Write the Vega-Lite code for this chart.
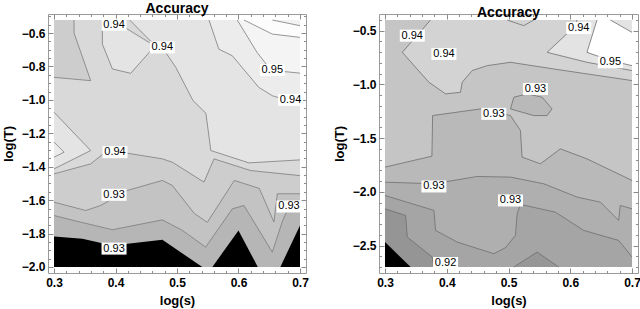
{
"$schema":"https://vega.github.io/schema/vega-lite/v6.json",
"padding":{"left":1,"right":2,"top":1,"bottom":0},
"spacing":23,
"config":{
 "view":{"stroke":"#9a9a9a","strokeWidth":1},
 "axis":{"domain":false,"grid":false,"tickColor":"#8a8a8a","tickWidth":1,"labelFont":"Liberation Sans","labelFontSize":12,"labelFontWeight":"bold","labelColor":"#000","titleFont":"Liberation Sans","titleFontSize":13,"titleFontWeight":"bold","titleColor":"#000","labelFlush":false,"labelOverlap":false,"labelPadding":4},
 "title":{"font":"Liberation Sans","fontSize":14,"fontWeight":"bold","color":"#000","offset":-6}
},
"datasets":{
"A":[
{"p":"L","id":"a00","c":"#e4e4e4","x":0.3,"hi":-0.522,"lo":-2},
{"p":"L","id":"a00","c":"#e4e4e4","x":0.7,"hi":-0.522,"lo":-2},
{"p":"L","id":"a01","c":"#ececec","x":0.552,"hi":-0.522,"lo":-0.522},
{"p":"L","id":"a01","c":"#ececec","x":0.568,"hi":-0.522,"lo":-0.696},
{"p":"L","id":"a01","c":"#ececec","x":0.59,"hi":-0.522,"lo":-0.736},
{"p":"L","id":"a01","c":"#ececec","x":0.633,"hi":-0.522,"lo":-0.925},
{"p":"L","id":"a01","c":"#ececec","x":0.655,"hi":-0.522,"lo":-0.975},
{"p":"L","id":"a01","c":"#ececec","x":0.681,"hi":-0.522,"lo":-1.004},
{"p":"L","id":"a01","c":"#ececec","x":0.7,"hi":-0.522,"lo":-1.004},
{"p":"L","id":"a02","c":"#f4f4f4","x":0.598,"hi":-0.522,"lo":-0.522},
{"p":"L","id":"a02","c":"#f4f4f4","x":0.63,"hi":-0.522,"lo":-0.715},
{"p":"L","id":"a02","c":"#f4f4f4","x":0.648,"hi":-0.522,"lo":-0.8},
{"p":"L","id":"a02","c":"#f4f4f4","x":0.66,"hi":-0.522,"lo":-0.825},
{"p":"L","id":"a02","c":"#f4f4f4","x":0.7,"hi":-0.522,"lo":-0.84},
{"p":"L","id":"a03","c":"#fcfcfc","x":0.609,"hi":-0.522,"lo":-0.522},
{"p":"L","id":"a03","c":"#fcfcfc","x":0.655,"hi":-0.522,"lo":-0.606},
{"p":"L","id":"a03","c":"#fcfcfc","x":0.7,"hi":-0.522,"lo":-0.626},
{"p":"L","id":"a04","c":"#f2f2f2","x":0.655,"hi":-0.522,"lo":-0.522},
{"p":"L","id":"a04","c":"#f2f2f2","x":0.7,"hi":-0.522,"lo":-0.556},
{"p":"L","id":"a05","c":"#d9d9d9","x":0.3,"hi":-0.522,"lo":-2},
{"p":"L","id":"a05","c":"#d9d9d9","x":0.423,"hi":-0.522,"lo":-2},
{"p":"L","id":"a05","c":"#d9d9d9","x":0.457,"hi":-0.648,"lo":-2},
{"p":"L","id":"a05","c":"#d9d9d9","x":0.476,"hi":-0.686,"lo":-2},
{"p":"L","id":"a05","c":"#d9d9d9","x":0.498,"hi":-0.805,"lo":-2},
{"p":"L","id":"a05","c":"#d9d9d9","x":0.526,"hi":-1.004,"lo":-2},
{"p":"L","id":"a05","c":"#d9d9d9","x":0.547,"hi":-1.08,"lo":-2},
{"p":"L","id":"a05","c":"#d9d9d9","x":0.555,"hi":-1.303,"lo":-2},
{"p":"L","id":"a05","c":"#d9d9d9","x":0.617,"hi":-1.377,"lo":-2},
{"p":"L","id":"a05","c":"#d9d9d9","x":0.7,"hi":-1.359,"lo":-2},
{"p":"L","id":"a06","c":"#cdcdcd","x":0.3,"hi":-0.522,"lo":-0.865},
{"p":"L","id":"a06","c":"#cdcdcd","x":0.3324,"hi":-0.522,"lo":-0.876},
{"p":"L","id":"a06","c":"#cdcdcd","x":0.3326,"hi":-0.6,"lo":-0.876},
{"p":"L","id":"a06","c":"#cdcdcd","x":0.3596,"hi":-0.885,"lo":-0.885},
{"p":"L","id":"a07","c":"#e4e4e4","x":0.3786,"hi":-0.522,"lo":-0.666},
{"p":"L","id":"a07","c":"#e4e4e4","x":0.3949,"hi":-0.522,"lo":-0.815},
{"p":"L","id":"a07","c":"#e4e4e4","x":0.4111,"hi":-0.522,"lo":-0.829},
{"p":"L","id":"a07","c":"#e4e4e4","x":0.4165,"hi":-0.57,"lo":-0.834},
{"p":"L","id":"a07","c":"#e4e4e4","x":0.4247,"hi":-0.5886,"lo":-0.841},
{"p":"L","id":"a07","c":"#e4e4e4","x":0.4572,"hi":-0.662,"lo":-0.706},
{"p":"L","id":"a08","c":"#e4e4e4","x":0.3,"hi":-1.074,"lo":-1.413},
{"p":"L","id":"a08","c":"#e4e4e4","x":0.3596,"hi":-1.303,"lo":-1.303},
{"p":"L","id":"a09","c":"#ececec","x":0.3,"hi":-1.253,"lo":-1.343},
{"p":"L","id":"a09","c":"#ececec","x":0.3163,"hi":-1.313,"lo":-1.313},
{"p":"L","id":"a10","c":"#cdcdcd","x":0.3,"hi":-1.443,"lo":-2},
{"p":"L","id":"a10","c":"#cdcdcd","x":0.3596,"hi":-1.383,"lo":-2},
{"p":"L","id":"a10","c":"#cdcdcd","x":0.3786,"hi":-1.327,"lo":-2},
{"p":"L","id":"a10","c":"#cdcdcd","x":0.4192,"hi":-1.319,"lo":-2},
{"p":"L","id":"a10","c":"#cdcdcd","x":0.4762,"hi":-1.353,"lo":-2},
{"p":"L","id":"a10","c":"#cdcdcd","x":0.4924,"hi":-1.373,"lo":-2},
{"p":"L","id":"a10","c":"#cdcdcd","x":0.5439,"hi":-1.492,"lo":-2},
{"p":"L","id":"a10","c":"#cdcdcd","x":0.5602,"hi":-1.353,"lo":-2},
{"p":"L","id":"a10","c":"#cdcdcd","x":0.6198,"hi":-1.423,"lo":-2},
{"p":"L","id":"a10","c":"#cdcdcd","x":0.7,"hi":-1.453,"lo":-2},
{"p":"L","id":"a11","c":"#c3c3c3","x":0.3,"hi":-1.612,"lo":-2},
{"p":"L","id":"a11","c":"#c3c3c3","x":0.3515,"hi":-1.662,"lo":-2},
{"p":"L","id":"a11","c":"#c3c3c3","x":0.3759,"hi":-1.632,"lo":-2},
{"p":"L","id":"a11","c":"#c3c3c3","x":0.4192,"hi":-1.542,"lo":-2},
{"p":"L","id":"a11","c":"#c3c3c3","x":0.4762,"hi":-1.482,"lo":-2},
{"p":"L","id":"a11","c":"#c3c3c3","x":0.4924,"hi":-1.512,"lo":-2},
{"p":"L","id":"a11","c":"#c3c3c3","x":0.5282,"hi":-1.68,"lo":-2},
{"p":"L","id":"a11","c":"#c3c3c3","x":0.5493,"hi":-1.733,"lo":-2},
{"p":"L","id":"a11","c":"#c3c3c3","x":0.5932,"hi":-1.482,"lo":-2},
{"p":"L","id":"a11","c":"#c3c3c3","x":0.6339,"hi":-1.53,"lo":-2},
{"p":"L","id":"a11","c":"#c3c3c3","x":0.6577,"hi":-1.731,"lo":-2},
{"p":"L","id":"a11","c":"#c3c3c3","x":0.6631,"hi":-1.562,"lo":-2},
{"p":"L","id":"a11","c":"#c3c3c3","x":0.7,"hi":-1.562,"lo":-2},
{"p":"L","id":"a12","c":"#b6b6b6","x":0.3,"hi":-1.692,"lo":-2},
{"p":"L","id":"a12","c":"#b6b6b6","x":0.3325,"hi":-1.722,"lo":-2},
{"p":"L","id":"a12","c":"#b6b6b6","x":0.3949,"hi":-1.777,"lo":-2},
{"p":"L","id":"a12","c":"#b6b6b6","x":0.4762,"hi":-1.718,"lo":-2},
{"p":"L","id":"a12","c":"#b6b6b6","x":0.5087,"hi":-1.781,"lo":-2},
{"p":"L","id":"a12","c":"#b6b6b6","x":0.5466,"hi":-1.881,"lo":-2},
{"p":"L","id":"a12","c":"#b6b6b6","x":0.59,"hi":-1.652,"lo":-2},
{"p":"L","id":"a12","c":"#b6b6b6","x":0.6089,"hi":-1.632,"lo":-2},
{"p":"L","id":"a12","c":"#b6b6b6","x":0.655,"hi":-1.911,"lo":-2},
{"p":"L","id":"a12","c":"#b6b6b6","x":0.672,"hi":-1.72,"lo":-2},
{"p":"L","id":"a12","c":"#b6b6b6","x":0.682,"hi":-1.64,"lo":-2},
{"p":"L","id":"a12","c":"#b6b6b6","x":0.7,"hi":-1.625,"lo":-2},
{"p":"L","id":"a13","c":"#000000","x":0.3,"hi":-1.817,"lo":-2},
{"p":"L","id":"a13","c":"#000000","x":0.3461,"hi":-1.831,"lo":-2},
{"p":"L","id":"a13","c":"#000000","x":0.3949,"hi":-1.871,"lo":-2},
{"p":"L","id":"a13","c":"#000000","x":0.4762,"hi":-1.837,"lo":-2},
{"p":"L","id":"a13","c":"#000000","x":0.5412,"hi":-2,"lo":-2},
{"p":"L","id":"a14","c":"#000000","x":0.5575,"hi":-2,"lo":-2},
{"p":"L","id":"a14","c":"#000000","x":0.6,"hi":-1.781,"lo":-2},
{"p":"L","id":"a14","c":"#000000","x":0.6314,"hi":-2,"lo":-2},
{"p":"L","id":"a15","c":"#000000","x":0.6681,"hi":-2,"lo":-2},
{"p":"L","id":"a15","c":"#000000","x":0.7,"hi":-1.751,"lo":-2},
{"p":"R","id":"b00","c":"#c5c5c5","x":0.3,"hi":-0.4,"lo":-2.7},
{"p":"R","id":"b00","c":"#c5c5c5","x":0.7,"hi":-0.4,"lo":-2.7},
{"p":"R","id":"b01","c":"#d3d3d3","x":0.328,"hi":-0.701,"lo":-0.701},
{"p":"R","id":"b01","c":"#d3d3d3","x":0.3711,"hi":-0.418,"lo":-0.98},
{"p":"R","id":"b01","c":"#d3d3d3","x":0.3738,"hi":-0.4,"lo":-0.99},
{"p":"R","id":"b01","c":"#d3d3d3","x":0.3981,"hi":-0.4,"lo":-1.088},
{"p":"R","id":"b01","c":"#d3d3d3","x":0.4223,"hi":-0.4,"lo":-1.073},
{"p":"R","id":"b01","c":"#d3d3d3","x":0.425,"hi":-0.4,"lo":-0.98},
{"p":"R","id":"b01","c":"#d3d3d3","x":0.4412,"hi":-0.4,"lo":-0.871},
{"p":"R","id":"b01","c":"#d3d3d3","x":0.4655,"hi":-0.4,"lo":-0.825},
{"p":"R","id":"b01","c":"#d3d3d3","x":0.5032,"hi":-0.4,"lo":-0.794},
{"p":"R","id":"b01","c":"#d3d3d3","x":0.5732,"hi":-0.4,"lo":-0.856},
{"p":"R","id":"b01","c":"#d3d3d3","x":0.7,"hi":-0.4,"lo":-0.964},
{"p":"R","id":"b02","c":"#e3e3e3","x":0.5625,"hi":-0.701,"lo":-0.701},
{"p":"R","id":"b02","c":"#e3e3e3","x":0.6083,"hi":-0.455,"lo":-0.767},
{"p":"R","id":"b02","c":"#e3e3e3","x":0.611,"hi":-0.4,"lo":-0.77},
{"p":"R","id":"b02","c":"#e3e3e3","x":0.6271,"hi":-0.4,"lo":-0.794},
{"p":"R","id":"b02","c":"#e3e3e3","x":0.7,"hi":-0.4,"lo":-0.871},
{"p":"R","id":"b03","c":"#ffffff","x":0.6271,"hi":-0.701,"lo":-0.701},
{"p":"R","id":"b03","c":"#ffffff","x":0.6433,"hi":-0.4,"lo":-0.734},
{"p":"R","id":"b03","c":"#ffffff","x":0.6649,"hi":-0.4,"lo":-0.778},
{"p":"R","id":"b03","c":"#ffffff","x":0.7,"hi":-0.515,"lo":-0.825},
{"p":"R","id":"b05","c":"#b9b9b9","x":0.3,"hi":-1.77,"lo":-1.91},
{"p":"R","id":"b05","c":"#b9b9b9","x":0.376,"hi":-1.668,"lo":-1.924},
{"p":"R","id":"b05","c":"#b9b9b9","x":0.3771,"hi":-1.29,"lo":-1.925},
{"p":"R","id":"b05","c":"#b9b9b9","x":0.3792,"hi":-1.288,"lo":-1.925},
{"p":"R","id":"b05","c":"#b9b9b9","x":0.4493,"hi":-1.232,"lo":-1.857},
{"p":"R","id":"b05","c":"#b9b9b9","x":0.4547,"hi":-1.228,"lo":-1.858},
{"p":"R","id":"b05","c":"#b9b9b9","x":0.5032,"hi":-1.29,"lo":-1.863},
{"p":"R","id":"b05","c":"#b9b9b9","x":0.5193,"hi":-1.429,"lo":-1.882},
{"p":"R","id":"b05","c":"#b9b9b9","x":0.522,"hi":-1.677,"lo":-1.885},
{"p":"R","id":"b05","c":"#b9b9b9","x":0.5517,"hi":-1.739,"lo":-1.919},
{"p":"R","id":"b05","c":"#b9b9b9","x":0.5571,"hi":-1.716,"lo":-1.925},
{"p":"R","id":"b05","c":"#b9b9b9","x":0.584,"hi":-1.6,"lo":-1.987},
{"p":"R","id":"b05","c":"#b9b9b9","x":0.611,"hi":-1.658,"lo":-2.049},
{"p":"R","id":"b05","c":"#b9b9b9","x":0.6271,"hi":-1.693,"lo":-2.069},
{"p":"R","id":"b05","c":"#b9b9b9","x":0.6487,"hi":-1.752,"lo":-2.096},
{"p":"R","id":"b05","c":"#b9b9b9","x":0.6783,"hi":-1.834,"lo":-2.266},
{"p":"R","id":"b05","c":"#b9b9b9","x":0.681,"hi":-1.842,"lo":-2.127},
{"p":"R","id":"b05","c":"#b9b9b9","x":0.7,"hi":-1.894,"lo":-2.158},
{"p":"R","id":"b06","c":"#b9b9b9","x":0.5032,"hi":-1.228,"lo":-1.228},
{"p":"R","id":"b06","c":"#b9b9b9","x":0.5086,"hi":-1.119,"lo":-1.237},
{"p":"R","id":"b06","c":"#b9b9b9","x":0.5302,"hi":-1.088,"lo":-1.272},
{"p":"R","id":"b06","c":"#b9b9b9","x":0.5409,"hi":-1.102,"lo":-1.29},
{"p":"R","id":"b06","c":"#b9b9b9","x":0.5544,"hi":-1.119,"lo":-1.29},
{"p":"R","id":"b06","c":"#b9b9b9","x":0.5625,"hi":-1.173,"lo":-1.29},
{"p":"R","id":"b06","c":"#b9b9b9","x":0.5705,"hi":-1.228,"lo":-1.228},
{"p":"R","id":"b07","c":"#afafaf","x":0.3,"hi":-1.91,"lo":-2.7},
{"p":"R","id":"b07","c":"#afafaf","x":0.3792,"hi":-1.925,"lo":-2.7},
{"p":"R","id":"b07","c":"#afafaf","x":0.4493,"hi":-1.857,"lo":-2.7},
{"p":"R","id":"b07","c":"#afafaf","x":0.5032,"hi":-1.863,"lo":-2.7},
{"p":"R","id":"b07","c":"#afafaf","x":0.5571,"hi":-1.925,"lo":-2.7},
{"p":"R","id":"b07","c":"#afafaf","x":0.611,"hi":-2.049,"lo":-2.7},
{"p":"R","id":"b07","c":"#afafaf","x":0.6487,"hi":-2.096,"lo":-2.7},
{"p":"R","id":"b07","c":"#afafaf","x":0.6783,"hi":-2.266,"lo":-2.7},
{"p":"R","id":"b07","c":"#afafaf","x":0.681,"hi":-2.127,"lo":-2.7},
{"p":"R","id":"b07","c":"#afafaf","x":0.7,"hi":-2.158,"lo":-2.7},
{"p":"R","id":"b08","c":"#a5a5a5","x":0.3,"hi":-2.034,"lo":-2.7},
{"p":"R","id":"b08","c":"#a5a5a5","x":0.3792,"hi":-2.173,"lo":-2.7},
{"p":"R","id":"b08","c":"#a5a5a5","x":0.3819,"hi":-2.359,"lo":-2.7},
{"p":"R","id":"b08","c":"#a5a5a5","x":0.4169,"hi":-2.468,"lo":-2.7},
{"p":"R","id":"b08","c":"#a5a5a5","x":0.4762,"hi":-2.576,"lo":-2.7},
{"p":"R","id":"b08","c":"#a5a5a5","x":0.4951,"hi":-2.52,"lo":-2.7},
{"p":"R","id":"b08","c":"#a5a5a5","x":0.5113,"hi":-2.406,"lo":-2.7},
{"p":"R","id":"b08","c":"#a5a5a5","x":0.514,"hi":-2.204,"lo":-2.7},
{"p":"R","id":"b08","c":"#a5a5a5","x":0.5193,"hi":-2.117,"lo":-2.7},
{"p":"R","id":"b08","c":"#a5a5a5","x":0.5759,"hi":-2.189,"lo":-2.7},
{"p":"R","id":"b08","c":"#a5a5a5","x":0.6217,"hi":-2.359,"lo":-2.7},
{"p":"R","id":"b08","c":"#a5a5a5","x":0.6783,"hi":-2.452,"lo":-2.7},
{"p":"R","id":"b08","c":"#a5a5a5","x":0.7,"hi":-2.607,"lo":-2.7},
{"p":"R","id":"b09","c":"#959595","x":0.3,"hi":-2.158,"lo":-2.7},
{"p":"R","id":"b09","c":"#959595","x":0.3334,"hi":-2.22,"lo":-2.7},
{"p":"R","id":"b09","c":"#959595","x":0.3361,"hi":-2.421,"lo":-2.7},
{"p":"R","id":"b09","c":"#959595","x":0.3765,"hi":-2.607,"lo":-2.7},
{"p":"R","id":"b09","c":"#959595","x":0.3792,"hi":-2.7,"lo":-2.7},
{"p":"R","id":"b10","c":"#000000","x":0.3,"hi":-2.468,"lo":-2.7},
{"p":"R","id":"b10","c":"#000000","x":0.3415,"hi":-2.7,"lo":-2.7},
{"p":"R","id":"b11","c":"#979797","x":0.5086,"hi":-2.7,"lo":-2.7},
{"p":"R","id":"b11","c":"#979797","x":0.5463,"hi":-2.561,"lo":-2.7},
{"p":"R","id":"b11","c":"#979797","x":0.5813,"hi":-2.7,"lo":-2.7}
],
"Ln":[
{"p":"L","id":"l01","o":0,"x":0.552,"y":-0.522},{"p":"L","id":"l01","o":1,"x":0.568,"y":-0.696},{"p":"L","id":"l01","o":2,"x":0.59,"y":-0.736},{"p":"L","id":"l01","o":3,"x":0.633,"y":-0.925},{"p":"L","id":"l01","o":4,"x":0.655,"y":-0.975},{"p":"L","id":"l01","o":5,"x":0.681,"y":-1.004},{"p":"L","id":"l01","o":6,"x":0.7,"y":-1.004},
{"p":"L","id":"l02","o":0,"x":0.598,"y":-0.522},{"p":"L","id":"l02","o":1,"x":0.63,"y":-0.715},{"p":"L","id":"l02","o":2,"x":0.648,"y":-0.8},{"p":"L","id":"l02","o":3,"x":0.66,"y":-0.825},{"p":"L","id":"l02","o":4,"x":0.7,"y":-0.84},
{"p":"L","id":"l03","o":0,"x":0.609,"y":-0.522},{"p":"L","id":"l03","o":1,"x":0.655,"y":-0.606},{"p":"L","id":"l03","o":2,"x":0.7,"y":-0.626},
{"p":"L","id":"l04","o":0,"x":0.655,"y":-0.522},{"p":"L","id":"l04","o":1,"x":0.7,"y":-0.556},
{"p":"L","id":"l05","o":0,"x":0.423,"y":-0.522},{"p":"L","id":"l05","o":1,"x":0.457,"y":-0.648},{"p":"L","id":"l05","o":2,"x":0.476,"y":-0.686},{"p":"L","id":"l05","o":3,"x":0.498,"y":-0.805},{"p":"L","id":"l05","o":4,"x":0.526,"y":-1.004},{"p":"L","id":"l05","o":5,"x":0.547,"y":-1.08},{"p":"L","id":"l05","o":6,"x":0.555,"y":-1.303},{"p":"L","id":"l05","o":7,"x":0.617,"y":-1.377},{"p":"L","id":"l05","o":8,"x":0.7,"y":-1.359},
{"p":"L","id":"l06","o":0,"x":0.3325,"y":-0.522},{"p":"L","id":"l06","o":1,"x":0.3326,"y":-0.6},{"p":"L","id":"l06","o":2,"x":0.3596,"y":-0.885},{"p":"L","id":"l06","o":3,"x":0.3,"y":-0.865},
{"p":"L","id":"l07","o":0,"x":0.3786,"y":-0.522},{"p":"L","id":"l07","o":1,"x":0.3786,"y":-0.666},{"p":"L","id":"l07","o":2,"x":0.3949,"y":-0.815},{"p":"L","id":"l07","o":3,"x":0.4247,"y":-0.841},{"p":"L","id":"l07","o":4,"x":0.4572,"y":-0.706},{"p":"L","id":"l07","o":5,"x":0.4572,"y":-0.662},{"p":"L","id":"l07","o":6,"x":0.4165,"y":-0.57},{"p":"L","id":"l07","o":7,"x":0.4111,"y":-0.522},
{"p":"L","id":"l08","o":0,"x":0.3,"y":-1.074},{"p":"L","id":"l08","o":1,"x":0.3596,"y":-1.303},{"p":"L","id":"l08","o":2,"x":0.3,"y":-1.413},
{"p":"L","id":"l09","o":0,"x":0.3,"y":-1.253},{"p":"L","id":"l09","o":1,"x":0.3163,"y":-1.313},{"p":"L","id":"l09","o":2,"x":0.3,"y":-1.343},
{"p":"L","id":"l10","o":0,"x":0.3,"y":-1.443},{"p":"L","id":"l10","o":1,"x":0.3596,"y":-1.383},{"p":"L","id":"l10","o":2,"x":0.3786,"y":-1.327},{"p":"L","id":"l10","o":3,"x":0.4192,"y":-1.319},{"p":"L","id":"l10","o":4,"x":0.4762,"y":-1.353},{"p":"L","id":"l10","o":5,"x":0.4924,"y":-1.373},{"p":"L","id":"l10","o":6,"x":0.5439,"y":-1.492},{"p":"L","id":"l10","o":7,"x":0.5602,"y":-1.353},{"p":"L","id":"l10","o":8,"x":0.6198,"y":-1.423},{"p":"L","id":"l10","o":9,"x":0.7,"y":-1.453},
{"p":"L","id":"l11","o":0,"x":0.3,"y":-1.612},{"p":"L","id":"l11","o":1,"x":0.3515,"y":-1.662},{"p":"L","id":"l11","o":2,"x":0.3759,"y":-1.632},{"p":"L","id":"l11","o":3,"x":0.4192,"y":-1.542},{"p":"L","id":"l11","o":4,"x":0.4762,"y":-1.482},{"p":"L","id":"l11","o":5,"x":0.4924,"y":-1.512},{"p":"L","id":"l11","o":6,"x":0.5282,"y":-1.68},{"p":"L","id":"l11","o":7,"x":0.5493,"y":-1.733},{"p":"L","id":"l11","o":8,"x":0.5932,"y":-1.482},{"p":"L","id":"l11","o":9,"x":0.6339,"y":-1.53},{"p":"L","id":"l11","o":10,"x":0.6577,"y":-1.731},{"p":"L","id":"l11","o":11,"x":0.6631,"y":-1.562},{"p":"L","id":"l11","o":12,"x":0.7,"y":-1.562},
{"p":"L","id":"l12","o":0,"x":0.3,"y":-1.692},{"p":"L","id":"l12","o":1,"x":0.3325,"y":-1.722},{"p":"L","id":"l12","o":2,"x":0.3949,"y":-1.777},{"p":"L","id":"l12","o":3,"x":0.4762,"y":-1.718},{"p":"L","id":"l12","o":4,"x":0.5087,"y":-1.781},{"p":"L","id":"l12","o":5,"x":0.5466,"y":-1.881},{"p":"L","id":"l12","o":6,"x":0.59,"y":-1.652},{"p":"L","id":"l12","o":7,"x":0.6089,"y":-1.632},{"p":"L","id":"l12","o":8,"x":0.655,"y":-1.911},{"p":"L","id":"l12","o":9,"x":0.672,"y":-1.72},{"p":"L","id":"l12","o":10,"x":0.682,"y":-1.64},{"p":"L","id":"l12","o":11,"x":0.7,"y":-1.625},
{"p":"R","id":"r01","o":0,"x":0.3738,"y":-0.4},{"p":"R","id":"r01","o":1,"x":0.328,"y":-0.701},{"p":"R","id":"r01","o":2,"x":0.3711,"y":-0.98},{"p":"R","id":"r01","o":3,"x":0.3981,"y":-1.088},{"p":"R","id":"r01","o":4,"x":0.4223,"y":-1.073},{"p":"R","id":"r01","o":5,"x":0.425,"y":-0.98},{"p":"R","id":"r01","o":6,"x":0.4412,"y":-0.871},{"p":"R","id":"r01","o":7,"x":0.4655,"y":-0.825},{"p":"R","id":"r01","o":8,"x":0.5032,"y":-0.794},{"p":"R","id":"r01","o":9,"x":0.5732,"y":-0.856},{"p":"R","id":"r01","o":10,"x":0.7,"y":-0.964},
{"p":"R","id":"r02","o":0,"x":0.4978,"y":-0.4},{"p":"R","id":"r02","o":1,"x":0.5247,"y":-0.453},{"p":"R","id":"r02","o":2,"x":0.5409,"y":-0.4},
{"p":"R","id":"r03","o":0,"x":0.611,"y":-0.4},{"p":"R","id":"r03","o":1,"x":0.6083,"y":-0.455},{"p":"R","id":"r03","o":2,"x":0.5625,"y":-0.701},{"p":"R","id":"r03","o":3,"x":0.6271,"y":-0.794},{"p":"R","id":"r03","o":4,"x":0.7,"y":-0.871},
{"p":"R","id":"r04","o":0,"x":0.6433,"y":-0.4},{"p":"R","id":"r04","o":1,"x":0.6271,"y":-0.701},{"p":"R","id":"r04","o":2,"x":0.6649,"y":-0.778},{"p":"R","id":"r04","o":3,"x":0.7,"y":-0.825},
{"p":"R","id":"r05","o":0,"x":0.6649,"y":-0.4},{"p":"R","id":"r05","o":1,"x":0.7,"y":-0.515},
{"p":"R","id":"r06","o":0,"x":0.3,"y":-1.77},{"p":"R","id":"r06","o":1,"x":0.376,"y":-1.668},{"p":"R","id":"r06","o":2,"x":0.3771,"y":-1.29},{"p":"R","id":"r06","o":3,"x":0.4547,"y":-1.228},{"p":"R","id":"r06","o":4,"x":0.5032,"y":-1.29},{"p":"R","id":"r06","o":5,"x":0.5193,"y":-1.429},{"p":"R","id":"r06","o":6,"x":0.522,"y":-1.677},{"p":"R","id":"r06","o":7,"x":0.5517,"y":-1.739},{"p":"R","id":"r06","o":8,"x":0.584,"y":-1.6},{"p":"R","id":"r06","o":9,"x":0.6271,"y":-1.693},{"p":"R","id":"r06","o":10,"x":0.7,"y":-1.894},
{"p":"R","id":"r07","o":0,"x":0.3,"y":-1.91},{"p":"R","id":"r07","o":1,"x":0.3792,"y":-1.925},{"p":"R","id":"r07","o":2,"x":0.4493,"y":-1.857},{"p":"R","id":"r07","o":3,"x":0.5032,"y":-1.863},{"p":"R","id":"r07","o":4,"x":0.5571,"y":-1.925},{"p":"R","id":"r07","o":5,"x":0.611,"y":-2.049},{"p":"R","id":"r07","o":6,"x":0.6487,"y":-2.096},{"p":"R","id":"r07","o":7,"x":0.6783,"y":-2.266},{"p":"R","id":"r07","o":8,"x":0.681,"y":-2.127},{"p":"R","id":"r07","o":9,"x":0.7,"y":-2.158},
{"p":"R","id":"r08","o":0,"x":0.5032,"y":-1.228},{"p":"R","id":"r08","o":1,"x":0.5086,"y":-1.119},{"p":"R","id":"r08","o":2,"x":0.5302,"y":-1.088},{"p":"R","id":"r08","o":3,"x":0.5544,"y":-1.119},{"p":"R","id":"r08","o":4,"x":0.5705,"y":-1.228},{"p":"R","id":"r08","o":5,"x":0.5625,"y":-1.29},{"p":"R","id":"r08","o":6,"x":0.5409,"y":-1.29},{"p":"R","id":"r08","o":7,"x":0.5032,"y":-1.228},
{"p":"R","id":"r09","o":0,"x":0.3,"y":-2.034},{"p":"R","id":"r09","o":1,"x":0.3792,"y":-2.173},{"p":"R","id":"r09","o":2,"x":0.3819,"y":-2.359},{"p":"R","id":"r09","o":3,"x":0.4169,"y":-2.468},{"p":"R","id":"r09","o":4,"x":0.4762,"y":-2.576},{"p":"R","id":"r09","o":5,"x":0.4951,"y":-2.52},{"p":"R","id":"r09","o":6,"x":0.5113,"y":-2.406},{"p":"R","id":"r09","o":7,"x":0.514,"y":-2.204},{"p":"R","id":"r09","o":8,"x":0.5193,"y":-2.117},{"p":"R","id":"r09","o":9,"x":0.5759,"y":-2.189},{"p":"R","id":"r09","o":10,"x":0.6217,"y":-2.359},{"p":"R","id":"r09","o":11,"x":0.6783,"y":-2.452},{"p":"R","id":"r09","o":12,"x":0.7,"y":-2.607},
{"p":"R","id":"r10","o":0,"x":0.3,"y":-2.158},{"p":"R","id":"r10","o":1,"x":0.3334,"y":-2.22},{"p":"R","id":"r10","o":2,"x":0.3361,"y":-2.421},{"p":"R","id":"r10","o":3,"x":0.3765,"y":-2.607},{"p":"R","id":"r10","o":4,"x":0.3792,"y":-2.7},
{"p":"R","id":"r11","o":0,"x":0.5086,"y":-2.7},{"p":"R","id":"r11","o":1,"x":0.5463,"y":-2.561},{"p":"R","id":"r11","o":2,"x":0.5813,"y":-2.7}
],
"T":[
{"p":"L","x":0.3976,"y":-0.55,"t":"0.94"},
{"p":"L","x":0.4761,"y":-0.686,"t":"0.94"},
{"p":"L","x":0.655,"y":-0.821,"t":"0.95"},
{"p":"L","x":0.6847,"y":-1.0,"t":"0.94"},
{"p":"L","x":0.3992,"y":-1.313,"t":"0.94"},
{"p":"L","x":0.3976,"y":-1.568,"t":"0.93"},
{"p":"L","x":0.6821,"y":-1.638,"t":"0.93"},
{"p":"L","x":0.3976,"y":-1.89,"t":"0.93"},
{"p":"R","x":0.3442,"y":-0.546,"t":"0.94"},
{"p":"R","x":0.3954,"y":-0.716,"t":"0.94"},
{"p":"R","x":0.6137,"y":-0.474,"t":"0.94"},
{"p":"R","x":0.6649,"y":-0.794,"t":"0.95"},
{"p":"R","x":0.5436,"y":-1.042,"t":"0.93"},
{"p":"R","x":0.4762,"y":-1.274,"t":"0.93"},
{"p":"R","x":0.3792,"y":-1.95,"t":"0.93"},
{"p":"R","x":0.5032,"y":-2.08,"t":"0.93"},
{"p":"R","x":0.3981,"y":-2.663,"t":"0.92"}
]
},
"hconcat":[
{
 "width":258,"height":259,
 "title":{"text":"Accuracy"},
 "layer":[
  {"data":{"name":"A"},"transform":[{"filter":"datum.p==='L'"}],
   "mark":{"type":"area","interpolate":"linear"},
   "encoding":{
    "x":{"field":"x","type":"quantitative","scale":{"domain":[0.2902,0.7098],"nice":false,"zero":false},
     "axis":{"orient":"bottom","title":"log(s)","values":[0.3,0.32,0.34,0.36,0.38,0.4,0.42,0.44,0.46,0.48,0.5,0.52,0.54,0.56,0.58,0.6,0.62,0.64,0.66,0.68,0.7],"format":".1f","labelExpr":"abs(datum.value*10-round(datum.value*10))<0.001 ? datum.label : ''","tickSize":{"condition":{"test":"abs(datum.value*10-round(datum.value*10))<0.001","value":-5},"value":-2.5},"labelPadding":9,"titlePadding":4}},
    "y":{"field":"hi","type":"quantitative","stack":null,"scale":{"domain":[-2.036,-0.486],"nice":false,"zero":false},
     "axis":{"orient":"left","title":"log(T)","values":[-2,-1.95,-1.9,-1.85,-1.8,-1.75,-1.7,-1.65,-1.6,-1.55,-1.5,-1.45,-1.4,-1.35,-1.3,-1.25,-1.2,-1.15,-1.1,-1.05,-1,-0.95,-0.9,-0.85,-0.8,-0.75,-0.7,-0.65,-0.6,-0.55,-0.5],"format":".1f","labelExpr":"abs(datum.value*5-round(datum.value*5))<0.001 ? datum.label : ''","tickSize":{"condition":{"test":"abs(datum.value*5-round(datum.value*5))<0.001","value":-5},"value":-2.5},"labelPadding":8,"titlePadding":6}},
    "y2":{"field":"lo"},
    "color":{"field":"c","type":"nominal","scale":null},
    "detail":{"field":"id"}
   }},
  {"data":{"name":"Ln"},"transform":[{"filter":"datum.p==='L'"}],
   "mark":{"type":"line","stroke":"#7c7c7c","strokeWidth":0.8},
   "encoding":{
    "x":{"field":"x","type":"quantitative","axis":{"orient":"top","labels":false,"title":null,"values":[0.3,0.32,0.34,0.36,0.38,0.4,0.42,0.44,0.46,0.48,0.5,0.52,0.54,0.56,0.58,0.6,0.62,0.64,0.66,0.68,0.7],"tickSize":{"condition":{"test":"abs(datum.value*10-round(datum.value*10))<0.001","value":-5},"value":-2.5}}},
    "y":{"field":"y","type":"quantitative","axis":{"orient":"right","labels":false,"title":null,"values":[-2,-1.95,-1.9,-1.85,-1.8,-1.75,-1.7,-1.65,-1.6,-1.55,-1.5,-1.45,-1.4,-1.35,-1.3,-1.25,-1.2,-1.15,-1.1,-1.05,-1,-0.95,-0.9,-0.85,-0.8,-0.75,-0.7,-0.65,-0.6,-0.55,-0.5],"tickSize":{"condition":{"test":"abs(datum.value*5-round(datum.value*5))<0.001","value":-5},"value":-2.5}}},
    "detail":{"field":"id"},
    "order":{"field":"o"}
   }},
  {"data":{"name":"T"},"transform":[{"filter":"datum.p==='L'"}],
   "mark":{"type":"rect","fill":"#ffffff","xOffset":-12.5,"x2Offset":12.5,"yOffset":-6,"y2Offset":6},
   "encoding":{"x":{"field":"x","type":"quantitative","axis":null},"x2":{"field":"x"},"y":{"field":"y","type":"quantitative","axis":null},"y2":{"field":"y"}}},
  {"data":{"name":"T"},"transform":[{"filter":"datum.p==='L'"}],
   "mark":{"type":"text","font":"Liberation Sans","fontSize":11,"color":"#000","baseline":"middle","align":"center"},
   "encoding":{"x":{"field":"x","type":"quantitative","axis":null},"y":{"field":"y","type":"quantitative","axis":null},"text":{"field":"t"}}}
 ],
 "resolve":{"axis":{"x":"independent","y":"independent"}}
},
{
 "width":259,"height":259,
 "title":{"text":"Accuracy"},
 "layer":[
  {"data":{"name":"A"},"transform":[{"filter":"datum.p==='R'"}],
   "mark":{"type":"area","interpolate":"linear"},
   "encoding":{
    "x":{"field":"x","type":"quantitative","scale":{"domain":[0.2903,0.7097],"nice":false,"zero":false},
     "axis":{"orient":"bottom","title":"log(s)","values":[0.3,0.32,0.34,0.36,0.38,0.4,0.42,0.44,0.46,0.48,0.5,0.52,0.54,0.56,0.58,0.6,0.62,0.64,0.66,0.68,0.7],"format":".1f","labelExpr":"abs(datum.value*10-round(datum.value*10))<0.001 ? datum.label : ''","tickSize":{"condition":{"test":"abs(datum.value*10-round(datum.value*10))<0.001","value":-5},"value":-2.5},"labelPadding":9,"titlePadding":4}},
    "y":{"field":"hi","type":"quantitative","stack":null,"scale":{"domain":[-2.7558,-0.3442],"nice":false,"zero":false},
     "axis":{"orient":"left","title":"log(T)","values":[-2.7,-2.6,-2.5,-2.4,-2.3,-2.2,-2.1,-2,-1.9,-1.8,-1.7,-1.6,-1.5,-1.4,-1.3,-1.2,-1.1,-1,-0.9,-0.8,-0.7,-0.6,-0.5,-0.4],"format":".1f","labelExpr":"abs(datum.value*2-round(datum.value*2))<0.001 ? datum.label : ''","tickSize":{"condition":{"test":"abs(datum.value*2-round(datum.value*2))<0.001","value":-5},"value":-2.5},"labelPadding":8,"titlePadding":6}},
    "y2":{"field":"lo"},
    "color":{"field":"c","type":"nominal","scale":null},
    "detail":{"field":"id"}
   }},
  {"data":{"name":"Ln"},"transform":[{"filter":"datum.p==='R'"}],
   "mark":{"type":"line","stroke":"#6e6e6e","strokeWidth":0.8},
   "encoding":{
    "x":{"field":"x","type":"quantitative","axis":{"orient":"top","labels":false,"title":null,"values":[0.3,0.32,0.34,0.36,0.38,0.4,0.42,0.44,0.46,0.48,0.5,0.52,0.54,0.56,0.58,0.6,0.62,0.64,0.66,0.68,0.7],"tickSize":{"condition":{"test":"abs(datum.value*10-round(datum.value*10))<0.001","value":-5},"value":-2.5}}},
    "y":{"field":"y","type":"quantitative","axis":{"orient":"right","labels":false,"title":null,"values":[-2.7,-2.6,-2.5,-2.4,-2.3,-2.2,-2.1,-2,-1.9,-1.8,-1.7,-1.6,-1.5,-1.4,-1.3,-1.2,-1.1,-1,-0.9,-0.8,-0.7,-0.6,-0.5,-0.4],"tickSize":{"condition":{"test":"abs(datum.value*2-round(datum.value*2))<0.001","value":-5},"value":-2.5}}},
    "detail":{"field":"id"},
    "order":{"field":"o"}
   }},
  {"data":{"name":"T"},"transform":[{"filter":"datum.p==='R'"}],
   "mark":{"type":"rect","fill":"#ffffff","xOffset":-12.5,"x2Offset":12.5,"yOffset":-6,"y2Offset":6},
   "encoding":{"x":{"field":"x","type":"quantitative","axis":null},"x2":{"field":"x"},"y":{"field":"y","type":"quantitative","axis":null},"y2":{"field":"y"}}},
  {"data":{"name":"T"},"transform":[{"filter":"datum.p==='R'"}],
   "mark":{"type":"text","font":"Liberation Sans","fontSize":11,"color":"#000","baseline":"middle","align":"center"},
   "encoding":{"x":{"field":"x","type":"quantitative","axis":null},"y":{"field":"y","type":"quantitative","axis":null},"text":{"field":"t"}}}
 ],
 "resolve":{"axis":{"x":"independent","y":"independent"}}
}
]
}
